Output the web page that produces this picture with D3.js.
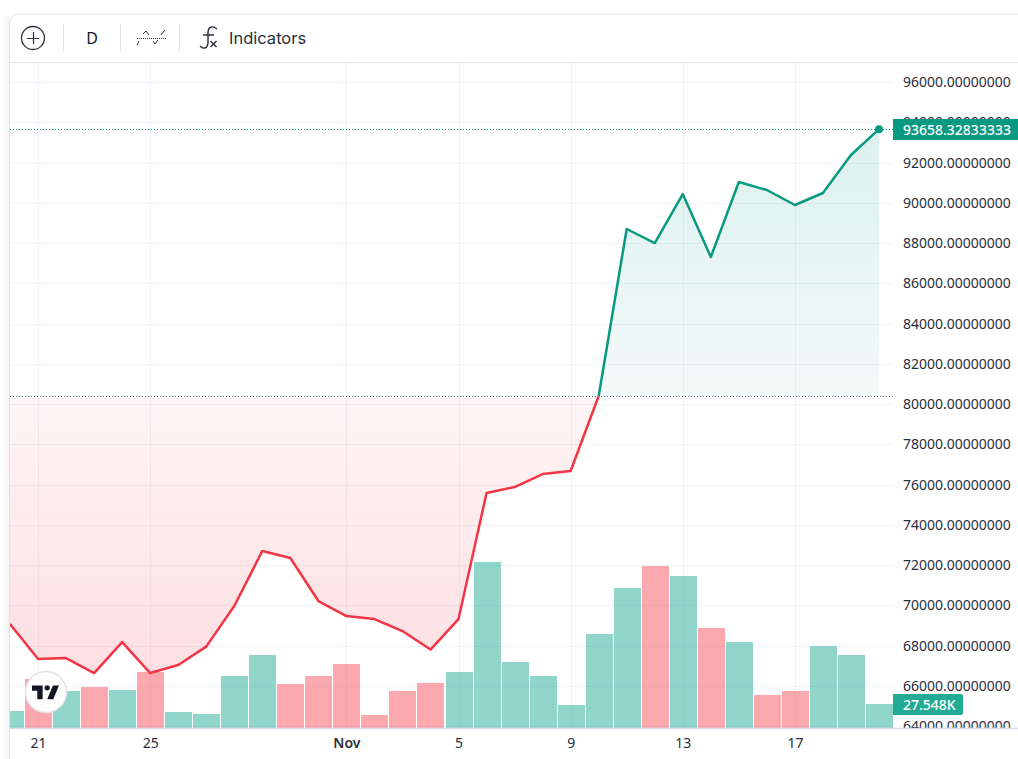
<!DOCTYPE html>
<html>
<head>
<meta charset="utf-8">
<script src="https://cdn.jsdelivr.net/npm/d3@7"></script>
<style>
html, body { margin: 0; padding: 0; background: #fff; overflow: hidden; }
svg { display: block; }
text { font-family: 'Noto Sans', sans-serif; }
</style>
</head>
<body>
<script>
// data
var days = ['Oct 20','Oct 21','Oct 22','Oct 23','Oct 24','Oct 25','Oct 26','Oct 27','Oct 28','Oct 29','Oct 30','Oct 31',
  'Nov 1','Nov 2','Nov 3','Nov 4','Nov 5','Nov 6','Nov 7','Nov 8','Nov 9','Nov 10','Nov 11','Nov 12','Nov 13','Nov 14',
  'Nov 15','Nov 16','Nov 17','Nov 18','Nov 19','Nov 20'];
var prices = [69079,67340,67390,66645,68185,66645,67042,67956,69973,72705,72357,70221,
  69476,69327,68731,67812,69327,75586,75884,76529,76678,80404,88699,88003,90437,87308,
  91033,90636,89891,90487,92374,93658.32833333];
var volumes = [19500,56300,42500,47100,43600,64300,18400,16100,59700,83800,50500,59700,
  73500,14900,42500,51700,64300,190600,75800,59700,26400,107900,160700,186000,174500,114800,
  98700,37900,42500,94100,83800,27548];
var volumeUp = [1,0,1,0,1,0,1,1,1,1,0,0,
  0,0,0,0,1,1,1,1,1,1,1,0,1,0,
  1,0,0,1,1,1];
var timeTicks = ['Oct 21','Oct 25','Nov 1','Nov 5','Nov 9','Nov 13','Nov 17'];
var timeLabels = ['21','25','Nov','5','9','13','17'];
var priceTicks = d3.range(64000, 96001, 2000);
var baseValue = 80404;
var crossIndex = days.indexOf('Nov 10');

var green = '#089981', red = '#f23645', gridColor = '#f0f3fa', borderColor = '#e0e3eb', textColor = '#2a2e39';

var svg = d3.select('body').append('svg').attr('width', 1018).attr('height', 759);
var defs = svg.append('defs');

var x = d3.scalePoint().domain(days).range([10, 879]);
var y = d3.scaleLinear().domain([64000, 96000]).range([726.3, 82]);
var yVol = d3.scaleLinear().domain([0, 200000]).range([728, 553.8]);

// clips
defs.append('clipPath').attr('id', 'plot').append('rect').attr('x', 10).attr('y', 63).attr('width', 883).attr('height', 665);
defs.append('clipPath').attr('id', 'axis').append('rect').attr('x', 893).attr('y', 63).attr('width', 125).attr('height', 665);

// gradients of the baseline fill
var gUp = defs.append('linearGradient').attr('id', 'upFill').attr('gradientUnits', 'userSpaceOnUse')
  .attr('x1', 0).attr('x2', 0).attr('y1', y(93658)).attr('y2', y(baseValue));
gUp.append('stop').attr('offset', 0).attr('stop-color', green).attr('stop-opacity', 0.14);
gUp.append('stop').attr('offset', 1).attr('stop-color', green).attr('stop-opacity', 0.05);
var gDown = defs.append('linearGradient').attr('id', 'downFill').attr('gradientUnits', 'userSpaceOnUse')
  .attr('x1', 0).attr('x2', 0).attr('y1', y(baseValue)).attr('y2', y(66645));
gDown.append('stop').attr('offset', 0).attr('stop-color', red).attr('stop-opacity', 0.05);
gDown.append('stop').attr('offset', 1).attr('stop-color', red).attr('stop-opacity', 0.16);

var shadow = defs.append('linearGradient').attr('id', 'leftShade');
shadow.append('stop').attr('offset', 0).attr('stop-color', '#fff');
shadow.append('stop').attr('offset', 1).attr('stop-color', '#f3f3f5');
svg.append('rect').attr('x', 2).attr('y', 16).attr('width', 8).attr('height', 743).attr('fill', 'url(#leftShade)');

// card outline
svg.append('path')
  .attr('d', 'M9.5 759V23a9 9 0 0 1 9-9H1018')
  .attr('fill', '#fff').attr('stroke', borderColor);

// grid
var plot = svg.append('g').attr('clip-path', 'url(#plot)');
plot.selectAll('.hgrid').data(priceTicks).enter().append('line')
  .attr('x1', 10).attr('x2', 893)
  .attr('y1', function (d) { return Math.round(y(d)) + 0.5; })
  .attr('y2', function (d) { return Math.round(y(d)) + 0.5; })
  .attr('stroke', gridColor);
plot.selectAll('.vgrid').data(timeTicks).enter().append('line')
  .attr('x1', function (d) { return Math.round(x(d)) + 0.5; })
  .attr('x2', function (d) { return Math.round(x(d)) + 0.5; })
  .attr('y1', 63).attr('y2', 728)
  .attr('stroke', gridColor);

// volume bars
plot.selectAll('.vol').data(volumes).enter().append('rect')
  .attr('x', function (d, i) { return Math.round(x(days[i]) - 13); })
  .attr('width', 27)
  .attr('y', function (d) { return yVol(d); })
  .attr('height', function (d) { return yVol(0) - yVol(d); })
  .attr('fill', function (d, i) { return volumeUp[i] ? '#22ab94' : '#f7525f'; })
  .attr('fill-opacity', 0.5);

// baseline areas and lines
var area = d3.area()
  .x(function (d) { return x(days[d]); })
  .y0(y(baseValue))
  .y1(function (d) { return y(prices[d]); });
var line = d3.line()
  .x(function (d) { return x(days[d]); })
  .y(function (d) { return y(prices[d]); });
var downIdx = d3.range(0, crossIndex + 1);
var upIdx = d3.range(crossIndex, days.length);

plot.append('path').attr('d', area(downIdx)).attr('fill', 'url(#downFill)');
plot.append('path').attr('d', area(upIdx)).attr('fill', 'url(#upFill)');

// dotted base and last price lines
plot.append('line').attr('x1', 10).attr('x2', 893)
  .attr('y1', Math.round(y(baseValue)) + 0.5).attr('y2', Math.round(y(baseValue)) + 0.5)
  .attr('stroke', '#4f6d7a').attr('stroke-dasharray', '1 2');
plot.append('line').attr('x1', 10).attr('x2', 893)
  .attr('y1', Math.round(y(prices[31])) + 0.5).attr('y2', Math.round(y(prices[31])) + 0.5)
  .attr('stroke', green).attr('stroke-dasharray', '1 2');

plot.append('path').attr('d', line(downIdx)).attr('fill', 'none').attr('stroke', red).attr('stroke-width', 2.5).attr('stroke-linejoin', 'round');
plot.append('path').attr('d', line(upIdx)).attr('fill', 'none').attr('stroke', green).attr('stroke-width', 2.5).attr('stroke-linejoin', 'round');
plot.append('circle').attr('cx', x(days[31])).attr('cy', y(prices[31])).attr('r', 4).attr('fill', green);

// price axis
var yAxis = d3.axisRight(y).tickValues(priceTicks).tickSize(0).tickPadding(0)
  .tickFormat(function (d) { return d.toFixed(8); });
var yG = svg.append('g').attr('clip-path', 'url(#axis)').append('g')
  .attr('transform', 'translate(903,0)').call(yAxis);
yG.select('.domain').remove();
yG.selectAll('text').attr('fill', textColor).style('font-size', '14px').style('font-family', "'Noto Sans', sans-serif");

// time axis
var xAxis = d3.axisBottom(x).tickValues(timeTicks).tickSize(0).tickPadding(10)
  .tickFormat(function (d) { return timeLabels[timeTicks.indexOf(d)]; });
var xG = svg.append('g').attr('transform', 'translate(0,728)').call(xAxis);
xG.select('.domain').remove();
xG.selectAll('text').attr('fill', textColor)
  .style('font-size', '14px').style('font-family', "'Noto Sans', sans-serif")
  .style('font-weight', function (d) { return d === 'Nov 1' ? 600 : 400; });
svg.append('line').attr('x1', 10).attr('x2', 1018).attr('y1', 728.5).attr('y2', 728.5).attr('stroke', '#d9dbe6').attr('stroke-width', 1.5);

// last value labels
svg.append('rect').attr('x', 893).attr('y', 119).attr('width', 125).attr('height', 21).attr('fill', green);
svg.append('text').attr('x', 903).attr('y', 135).attr('fill', '#fff').style('font-size', '14px').style('font-weight', 500)
  .text(prices[31].toFixed(8));
svg.append('path').attr('d', 'M893 694H961a2 2 0 0 1 2 2V713a2 2 0 0 1-2 2H893Z').attr('fill', '#22ab94');
svg.append('text').attr('x', 903).attr('y', 710).attr('fill', '#fff').style('font-size', '14px').style('font-weight', 500)
  .text((volumes[31] / 1000).toFixed(3) + 'K');

// watermark logo
svg.append('circle').attr('cx', 46).attr('cy', 692).attr('r', 20.5).attr('fill', '#fff').attr('stroke', borderColor).attr('stroke-width', 1.5);
var logo = svg.append('g').attr('transform', 'translate(32,682.5) scale(0.76)').attr('fill', '#131722');
logo.append('path').attr('d', 'M14 22H7V11H0V4h14v18zM28 22h-8l7.5-18h8L28 22z');
logo.append('circle').attr('cx', 20).attr('cy', 7).attr('r', 3.5);

// toolbar
var bar = svg.append('g');
bar.append('line').attr('x1', 10).attr('x2', 1018).attr('y1', 62.5).attr('y2', 62.5).attr('stroke', borderColor);
[63.5, 120.5, 179.5].forEach(function (sx) {
  bar.append('line').attr('x1', sx).attr('x2', sx).attr('y1', 24).attr('y2', 52).attr('stroke', borderColor);
});
bar.append('circle').attr('cx', 33).attr('cy', 38).attr('r', 11.5).attr('fill', 'none').attr('stroke', textColor).attr('stroke-width', 1.3);
bar.append('path').attr('d', 'M27 38.5H39M33.5 32V44').attr('stroke', textColor).attr('stroke-width', 1.2).attr('fill', 'none');
bar.append('text').attr('x', 92).attr('y', 43.5).attr('text-anchor', 'middle').attr('fill', '#131722')
  .style('font-family', "'Noto Sans', sans-serif").style('font-size', '16px').text('D');
bar.append('path').attr('d', 'M137 45L139 41M143 34L146 31L149 35M153 41L155 44L158 40M161 35L165 30')
  .attr('stroke', textColor).attr('fill', 'none');
bar.append('line').attr('x1', 137).attr('x2', 166).attr('y1', 38.5).attr('y2', 38.5)
  .attr('stroke', textColor).attr('stroke-dasharray', '1 1');
bar.append('path').attr('d', 'M217 29C212 25 208 27 208 33V42C208 48 204 50 200 46M203 35H214')
  .attr('stroke', textColor).attr('stroke-width', 1.4).attr('fill', 'none');
bar.append('path').attr('d', 'M210.5 41L216.5 47M216.5 41L210.5 47').attr('stroke', textColor).attr('stroke-width', 1.4).attr('fill', 'none');
bar.append('text').attr('x', 229).attr('y', 43.5).attr('fill', textColor)
  .style('font-family', 'Inter, sans-serif').style('font-size', '16.5px').text('Indicators');
</script>
</body>
</html>
